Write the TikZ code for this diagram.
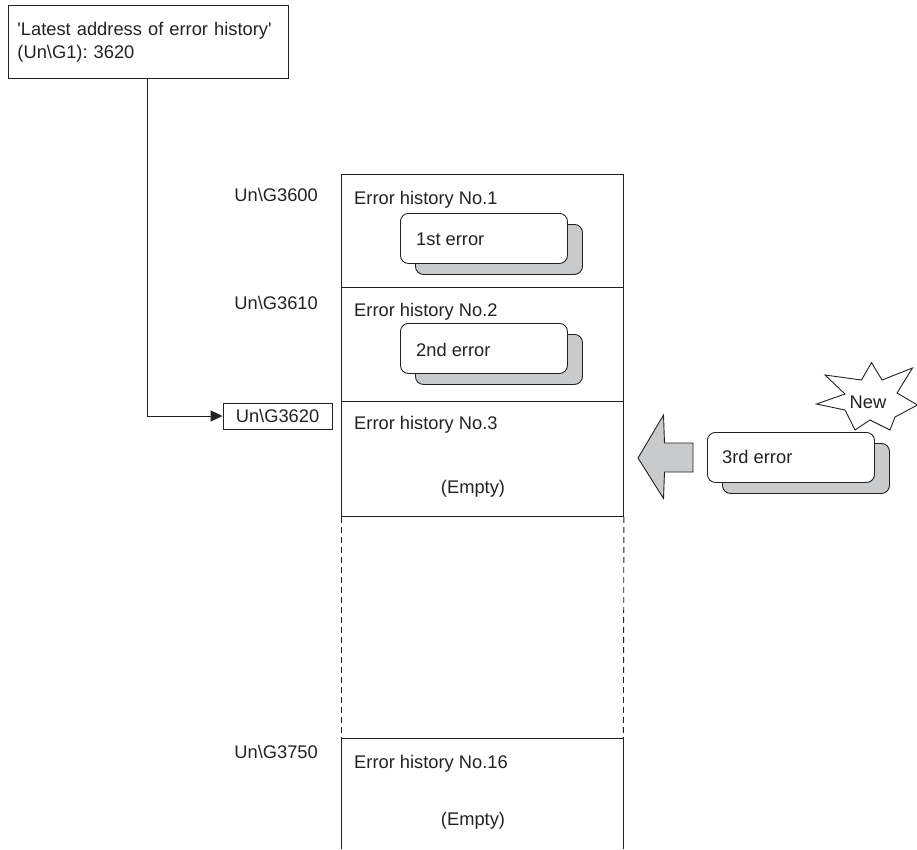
\documentclass[tikz,border=0pt]{standalone}
\usepackage{fontspec}
\setmainfont{Liberation Sans}[Ligatures=TeXOff]
\usetikzlibrary{arrows.meta}
\definecolor{shade}{HTML}{C9CACB}
\definecolor{ink}{HTML}{222222}
\frenchspacing
\begin{document}
\begin{tikzpicture}[x=1pt,y=-1pt,
  every node/.style={font=\fontsize{18.3}{23}\selectfont, text=ink},
  ln/.style={draw=ink, line width=0.9pt},
  cell/.style={ln, rectangle, minimum width=282pt, inner sep=0pt, anchor=north west},
  lbl/.style={anchor=base east, inner sep=0pt},
  ttl/.style={anchor=base west, inner sep=0pt},
  errbox/.style={ln, rectangle, rounded corners=8pt, fill=white, minimum width=167pt, minimum height=50pt, anchor=north west, inner sep=0pt},
  errshadow/.style={ln, rectangle, rounded corners=8pt, fill=shade, minimum width=167pt, minimum height=50pt, anchor=north west, inner sep=0pt},
  errtxt/.style={anchor=base west, inner sep=0pt}
]
\useasboundingbox (0,0) rectangle (917,849);

% top box
\node[ln, rectangle, anchor=north west, minimum width=280pt, minimum height=73pt,
  text width=262pt, align=left, inner xsep=9pt, inner ysep=0pt] (latest) at (8,5)
  {'Latest address of error history'\\(Un\textbackslash G1): 3620};

% column cells
\node[cell, minimum height=113pt] (c1) at (341,174) {};
\node[cell, minimum height=114pt] (c2) at (341,287) {};
\node[cell, minimum height=115pt] (c3) at (341,401) {};
\node[rectangle, minimum width=282pt, minimum height=111pt, inner sep=0pt, anchor=north west] (c16) at (341,738) {};
\draw[ln] (c16.south west) -- (c16.north west) -- (c16.north east) -- (c16.south east);
\draw[ln, dashed, dash pattern=on 6pt off 4pt] (c3.south west) -- (c16.north west);
\draw[ln, dashed, dash pattern=on 6pt off 4pt] (c3.south east) -- (c16.north east);

% titles
\node[ttl] (t1) at (354,204) {Error history No.1};
\node[ttl] (t2) at (354,316) {Error history No.2};
\node[ttl] (t3) at (354,429) {Error history No.3};
\node[ttl] (t16) at (354,768) {Error history No.16};
\node[anchor=base, inner sep=0pt] (em3) at (473,493) {(Empty)};
\node[anchor=base, inner sep=0pt] (em16) at (473,825) {(Empty)};

% address labels
\node[lbl] (a3600) at (318,201) {Un\textbackslash G3600};
\node[lbl] (a3610) at (318,309) {Un\textbackslash G3610};
\node[lbl] (a3750) at (318,758) {Un\textbackslash G3750};
\node[ln, rectangle, minimum width=109pt, minimum height=26pt, inner sep=0pt] (a3620) at (277.5,416) {Un\textbackslash G3620};

% pointer
\draw[ln, -{Triangle[length=12pt,width=11pt]}] (latest.south -| 147,0) -- (147,416) -- (a3620.west);

% error boxes
\node[errshadow] (s1) at (415,224) {};
\node[errbox] (e1) at (400,213) {};
\node[errtxt] (x1) at (416,245) {1st error};
\node[errshadow] (s2) at (415,334) {};
\node[errbox] (e2) at (400,323) {};
\node[errtxt] (x2) at (416,356) {2nd error};
\node[errshadow] (s3) at (722,443) {};
\node[errbox] (e3) at (707,432) {};
\node[errtxt] (x3) at (722,463) {3rd error};

% big arrow
\draw[ln, fill=shade, line join=miter] (638,458) -- (663.5,415) -- (664.5,443) -- (693,443) -- (693,472) -- (664.5,472) -- (663.5,498.5) -- cycle;

% star
\draw[ln, fill=white, line join=miter] (871.5,362.5) -- (882,380) -- (912.5,368) -- (897,393) -- (917.5,405) -- (895,417) -- (890,430) -- (870,420) -- (855,430) -- (845,410) -- (816.5,404) -- (845,394) -- (825,375) -- (861.5,380) -- cycle;
\node[anchor=base, inner sep=0pt] (new) at (868,408) {New};
\end{tikzpicture}
\end{document}
